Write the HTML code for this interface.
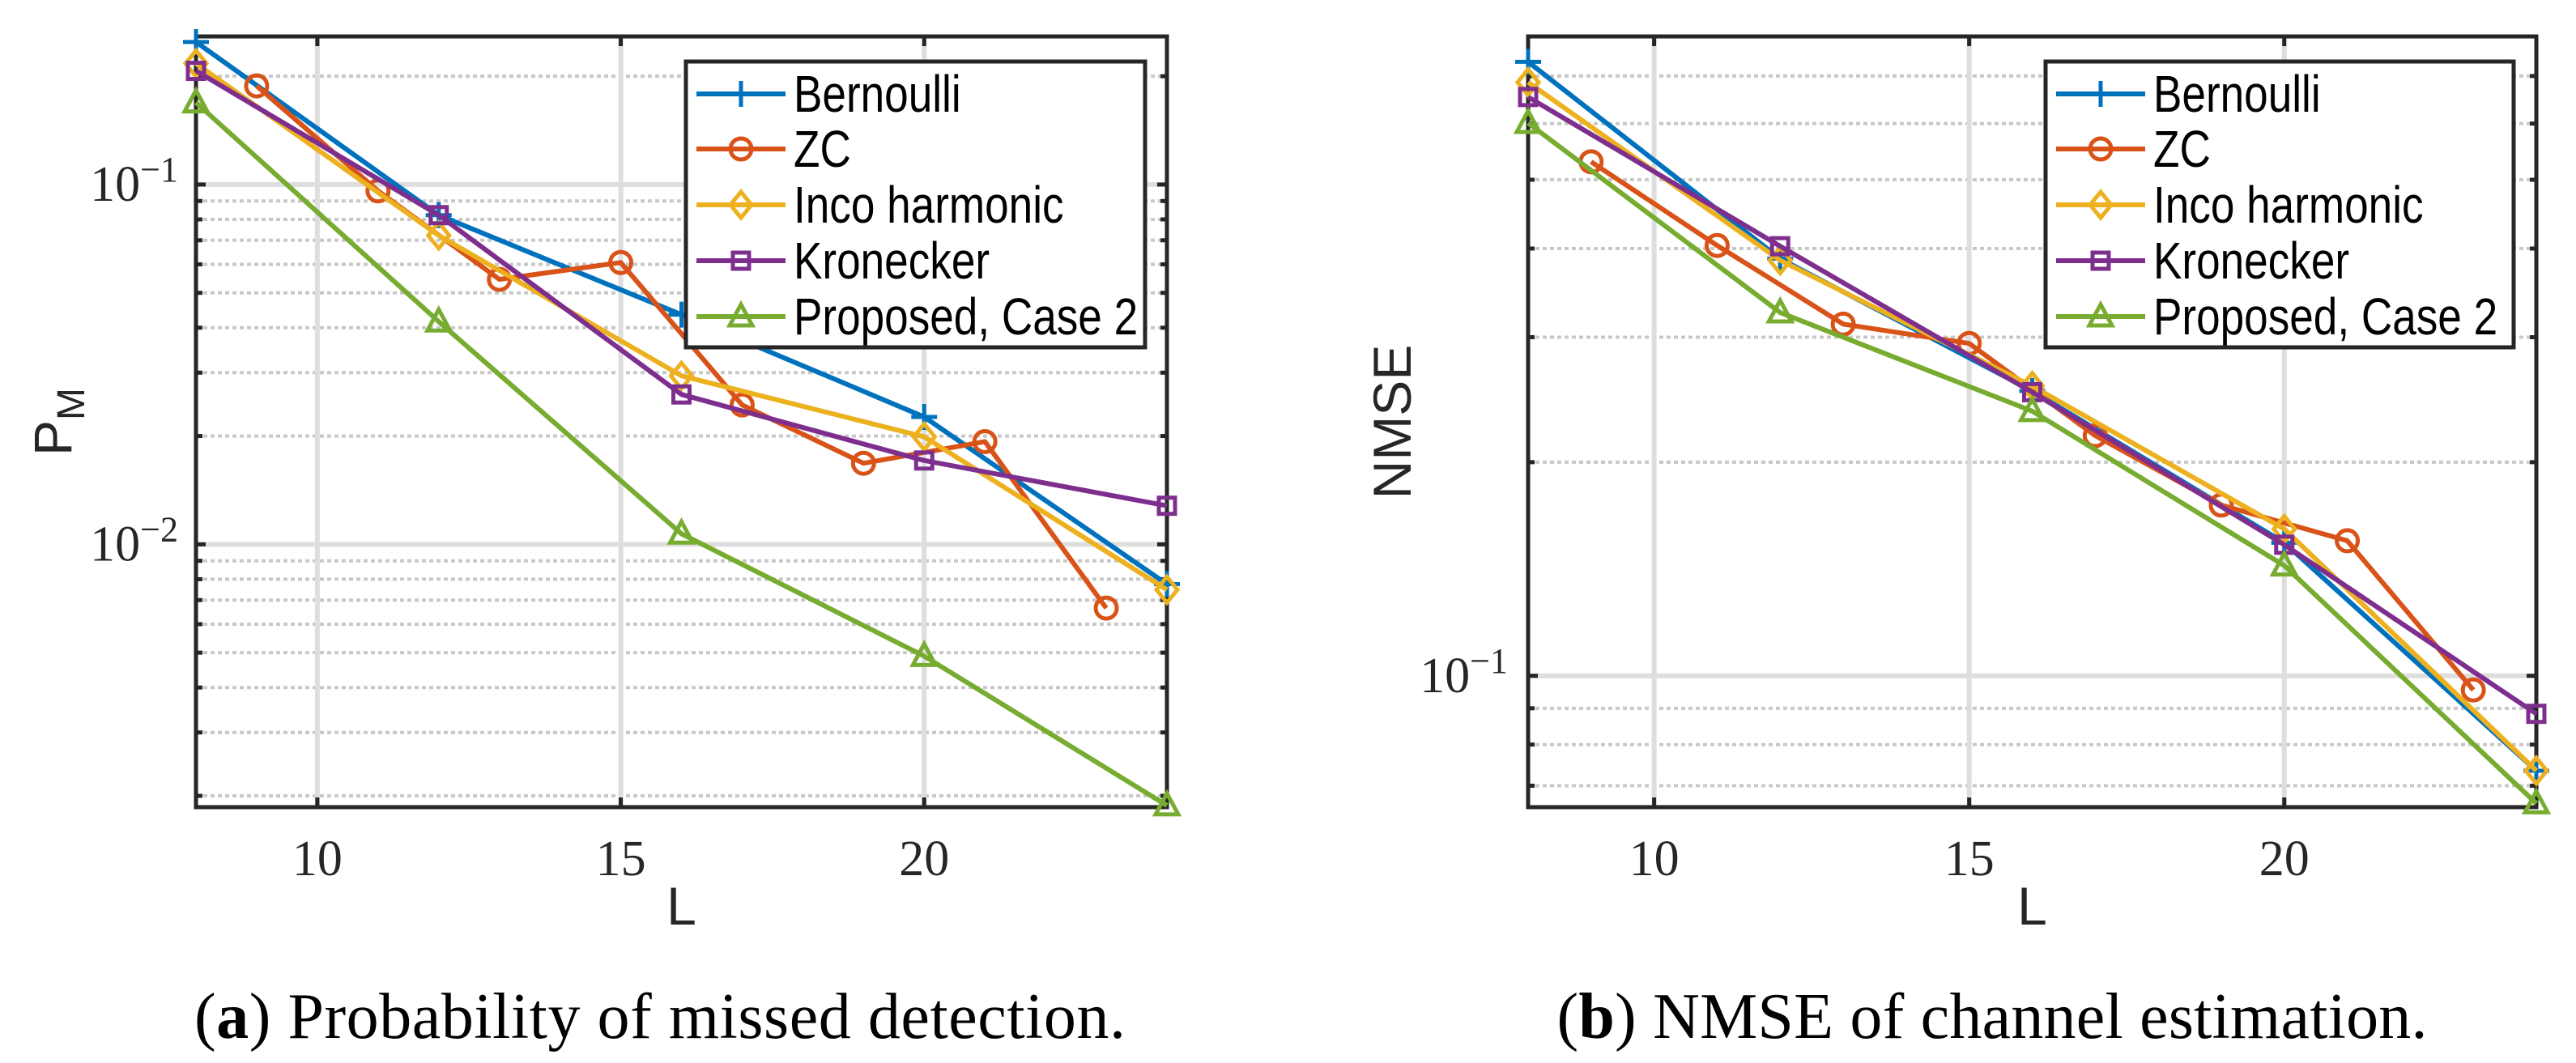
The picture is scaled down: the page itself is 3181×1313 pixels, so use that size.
<!DOCTYPE html>
<html><head><meta charset="utf-8"><style>
html,body{margin:0;padding:0;background:#fff;}
svg{display:block;}
</style></head><body>
<svg id="fig" width="3181" height="1313" viewBox="0 0 3181 1313" xmlns="http://www.w3.org/2000/svg">
<g id="plotA"></g>
<g id="plotB"></g>
<text x="815" y="1282" text-anchor="middle" font-family="Liberation Serif, serif" font-size="80" textLength="1150" lengthAdjust="spacing" fill="#000">(<tspan font-weight="bold">a</tspan>) Probability of missed detection.</text>
<text x="2460" y="1282" text-anchor="middle" font-family="Liberation Serif, serif" font-size="80" textLength="1075" lengthAdjust="spacing" fill="#000">(<tspan font-weight="bold">b</tspan>) NMSE of channel estimation.</text>
</svg>
<script>
const seriesNames = ["Bernoulli","ZC","Inco harmonic","Kronecker","Proposed, Case 2"];
const seriesColors = ["#0072BD","#D95319","#EDB120","#7E2F8E","#77AC30"];
const seriesMarkers = ["plus","circle","diamond","square","triangle"];
const xTicks = [10,15,20];

// Plot (a): P_M
const aBernoulliL = [8,12,16,20,24];
const aBernoulli  = [0.249,0.0822,0.0435,0.0226,0.00775];
const aZCL = [9,11,13,15,17,19,21,23];
const aZC  = [0.188,0.096,0.0545,0.0607,0.0244,0.0168,0.0193,0.00665];
const aIncoL = [8,12,16,20,24];
const aInco  = [0.217,0.0722,0.0294,0.0199,0.00748];
const aKronL = [8,12,16,20,24];
const aKron  = [0.207,0.0822,0.0261,0.0171,0.0128];
const aPropL = [8,12,16,20,24];
const aProp  = [0.169,0.0416,0.0107,0.00489,0.00188];

// Plot (b): NMSE
const bBernoulliL = [8,12,16,20,24];
const bBernoulli  = [0.733,0.387,0.252,0.154,0.0735];
const bZCL = [9,11,13,15,17,19,21,23];
const bZC  = [0.530,0.404,0.313,0.294,0.218,0.174,0.155,0.0955];
const bIncoL = [8,12,16,20,24];
const bInco  = [0.686,0.385,0.256,0.161,0.0735];
const bKronL = [8,12,16,20,24];
const bKron  = [0.654,0.403,0.251,0.153,0.0884];
const bPropL = [8,12,16,20,24];
const bProp  = [0.601,0.325,0.236,0.143,0.0661];

const NS="http://www.w3.org/2000/svg";
function el(parent,tag,attrs){const e=document.createElementNS(NS,tag);for(const k in attrs)e.setAttribute(k,attrs[k]);parent.appendChild(e);return e;}

function drawPlot(g,cfg){
  const {x0,x1,y0,y1,xmin,xmax,ymin,ymax,majors,minors,series,ylabel,legend,yTickRight} = cfg;
  const sx=v=>x0+(v-xmin)/(xmax-xmin)*(x1-x0);
  const ly0=Math.log10(ymin), ly1=Math.log10(ymax);
  const sy=v=>y1-(Math.log10(v)-ly0)/(ly1-ly0)*(y1-y0);
  minors.forEach(m=>{
    const l=el(g,'line',{x1:x0,x2:x1,y1:sy(m),y2:sy(m),stroke:'#c8c8c8','stroke-width':4,'stroke-dasharray':'5 4'});
    
    
  });
  majors.forEach(m=>{
    const l=el(g,'line',{x1:x0,x2:x1,y1:sy(m),y2:sy(m),stroke:'#dedede','stroke-width':6});
    
    
  });
  xTicks.forEach(t=>{
    const l=el(g,'line',{x1:sx(t),x2:sx(t),y1:y0,y2:y1,stroke:'#dedede','stroke-width':6});
    
    
  });
  const tk=12;
  xTicks.forEach(t=>{
    el(g,'line',{x1:sx(t),x2:sx(t),y1:y1,y2:y1-tk,stroke:'#262626','stroke-width':5});
    el(g,'line',{x1:sx(t),x2:sx(t),y1:y0,y2:y0+tk,stroke:'#262626','stroke-width':5});
    const tx=el(g,'text',{x:sx(t),y:y1+84,'text-anchor':'middle','font-family':'Liberation Serif, serif','font-size':62,fill:'#262626'});
    tx.textContent=t;
    
    
  });
  majors.concat(minors).forEach(m=>{
    const len=majors.includes(m)?tk:8;
    el(g,'line',{x1:x0,x2:x0+len,y1:sy(m),y2:sy(m),stroke:'#262626','stroke-width':5});
    el(g,'line',{x1:x1,x2:x1-len,y1:sy(m),y2:sy(m),stroke:'#262626','stroke-width':5});
  });
  majors.forEach(m=>{
    const e=Math.round(Math.log10(m));
    const tx=el(g,'text',{x:x0-yTickRight,y:sy(m)+20,'text-anchor':'end','font-family':'Liberation Serif, serif','font-size':62,fill:'#262626'});
    
    
    tx.appendChild(document.createTextNode('10'));
    const sp=el(tx,'tspan',{dy:-24,'font-size':44});
    sp.textContent='\u2212'+Math.abs(e);
  });
  const box=el(g,'rect',{x:x0,y:y0,width:x1-x0,height:y1-y0,fill:'none',stroke:'#262626','stroke-width':5});
  
  
  const xl=el(g,'text',{x:(x0+x1)/2,y:1142,'text-anchor':'middle','font-family':'Liberation Sans, sans-serif','font-size':66,fill:'#262626'});
  xl.textContent='L';
  
  
  const yl=el(g,'text',{x:0,y:0,transform:`translate(${ylabel.x},${(y0+y1)/2}) rotate(-90)`,'text-anchor':'middle','font-family':'Liberation Sans, sans-serif','font-size':66,fill:'#262626'});
  
  
  if(ylabel.sub){yl.appendChild(document.createTextNode('P'));const s=el(yl,'tspan',{dy:16,'font-size':48});s.textContent='M';}
  else yl.textContent=ylabel.text;
  series.forEach((s,i)=>{
    const sg=el(g,'g',{});
    
    
    const pts=s.L.map((l,j)=>sx(l)+','+sy(s.v[j])).join(' ');
    el(sg,'polyline',{points:pts,fill:'none',stroke:seriesColors[i],'stroke-width':6,'stroke-linejoin':'round'});
    s.L.forEach((l,j)=>{const m=marker(sg,seriesMarkers[i],sx(l),sy(s.v[j]),seriesColors[i]);
      
      });
  });
  const lg=el(g,'g',{});
  
  
  el(lg,'rect',{x:legend.x,y:76,width:legend.w,height:353,fill:'#fff',stroke:'#262626','stroke-width':5});
  const ys=[116,184,253,322,391];
  seriesNames.forEach((n,i)=>{
    const eg=el(lg,'g',{});
    
    
    el(eg,'line',{x1:legend.x+13,x2:legend.x+123,y1:ys[i],y2:ys[i],stroke:seriesColors[i],'stroke-width':6});
    marker(eg,seriesMarkers[i],legend.x+68,ys[i],seriesColors[i]);
    const tx0=legend.x+133;
    const t=el(eg,'text',{x:0,y:0,transform:`translate(${tx0},${ys[i]+22}) scale(0.83,1)`,'font-family':'Liberation Sans, sans-serif','font-size':64,fill:'#000'});
    t.textContent=n;
  });
}
function marker(g,type,x,y,c){
  const r=13;
  if(type==='plus'){return el(g,'path',{d:`M${x-r-3},${y}H${x+r+3}M${x},${y-r-3}V${y+r+3}`,stroke:c,'stroke-width':5,fill:'none'});}
  if(type==='circle')return el(g,'circle',{cx:x,cy:y,r:r,fill:'none',stroke:c,'stroke-width':5});
  if(type==='diamond')return el(g,'polygon',{points:`${x},${y-r-3} ${x+r},${y} ${x},${y+r+3} ${x-r},${y}`,fill:'none',stroke:c,'stroke-width':5});
  if(type==='square')return el(g,'rect',{x:x-10,y:y-10,width:20,height:20,fill:'none',stroke:c,'stroke-width':5});
  return el(g,'polygon',{points:`${x},${y-r-2} ${x+r+1},${y+r-2} ${x-r-1},${y+r-2}`,fill:'none',stroke:c,'stroke-width':5});
}
const minA=[0.002,0.003,0.004,0.005,0.006,0.007,0.008,0.009,0.02,0.03,0.04,0.05,0.06,0.07,0.08,0.09,0.2];
const minB=[0.07,0.08,0.09,0.2,0.3,0.4,0.5,0.6,0.7];
drawPlot(document.getElementById('plotA'),{x0:242,x1:1441,y0:45,y1:997,xmin:8,xmax:24,ymin:0.00186,ymax:0.258,
  majors:[0.01,0.1],minors:minA,ylabel:{x:88,sub:true},legend:{x:847,w:567},yTickRight:22,
  series:[{L:aBernoulliL,v:aBernoulli},{L:aZCL,v:aZC},{L:aIncoL,v:aInco},{L:aKronL,v:aKron},{L:aPropL,v:aProp}]});
drawPlot(document.getElementById('plotB'),{x0:1887,x1:3132,y0:45,y1:997,xmin:8,xmax:24,ymin:0.0653,ymax:0.796,
  majors:[0.1],minors:minB,ylabel:{x:1742,text:'NMSE'},legend:{x:2526,w:578},yTickRight:25,
  series:[{L:bBernoulliL,v:bBernoulli},{L:bZCL,v:bZC},{L:bIncoL,v:bInco},{L:bKronL,v:bKron},{L:bPropL,v:bProp}]});
</script>
</body></html>
